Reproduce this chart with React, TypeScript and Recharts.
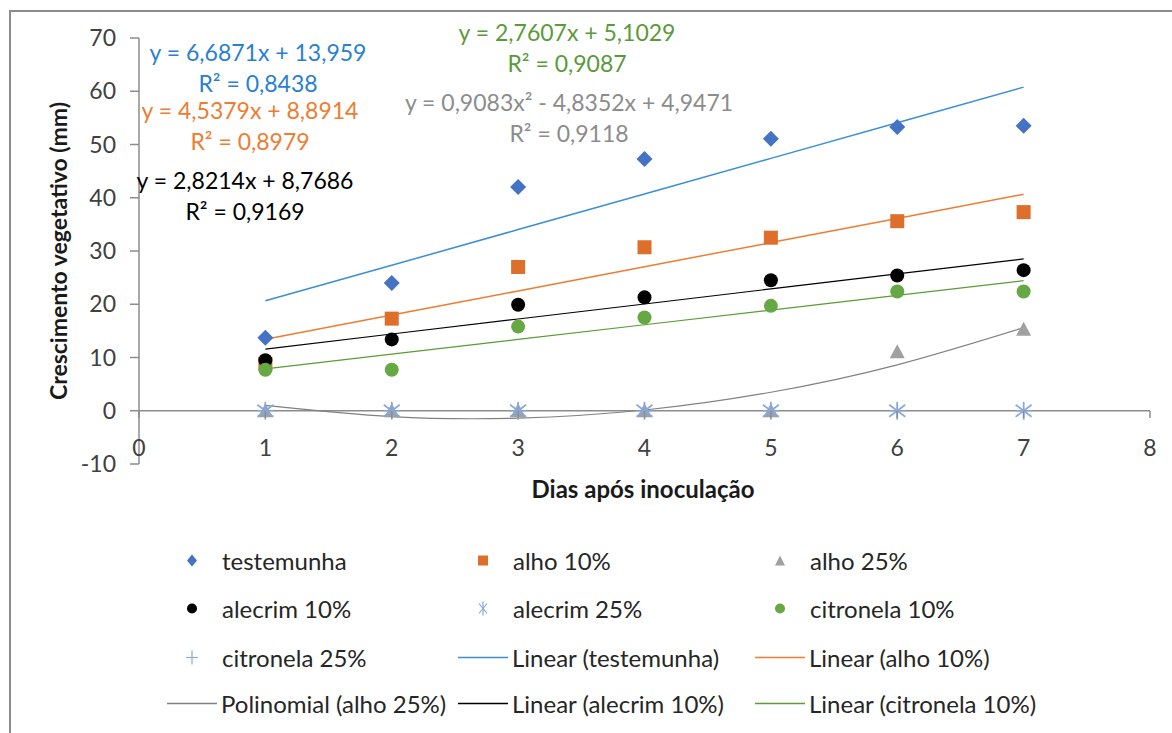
import React from "react";
import { ComposedChart, Scatter, Line, XAxis, YAxis, ReferenceLine } from "recharts";

// dias após inoculação
const days = [1, 2, 3, 4, 5, 6, 7];

// médias observadas (mm)
const testemunha = [13.7, 24.0, 42.0, 47.3, 51.1, 53.3, 53.5];
const alho10 = [8.8, 17.3, 27.0, 30.7, 32.5, 35.6, 37.3];
const alho25 = [0, 0, 0, 0, 0, 11.1, 15.3];
const alecrim10 = [9.5, 13.4, 19.9, 21.3, 24.5, 25.4, 26.4];
const alecrim25 = [0, 0, 0, 0, 0, 0, 0];
const citronela10 = [7.7, 7.7, 15.8, 17.5, 19.7, 22.4, 22.4];
const citronela25 = [0, 0, 0, 0, 0, 0, 0];

// linhas de tendência (valores das equações mostradas, em x = 1..7)
const trendTestemunha = [20.65, 27.33, 34.02, 40.71, 47.39, 54.08, 60.77];
const trendAlho10 = [13.43, 17.97, 22.5, 27.04, 31.58, 36.12, 40.66];
const trendAlho25 = [1.02, -1.09, -1.38, 0.14, 3.48, 8.63, 15.61];
const trendAlecrim10 = [11.59, 14.41, 17.23, 20.05, 22.88, 25.7, 28.52];
const trendCitronela10 = [7.86, 10.62, 13.39, 16.15, 18.91, 21.67, 24.43];

const xTicks = [0, 1, 2, 3, 4, 5, 6, 7, 8];
const yTicks = [-10, 0, 10, 20, 30, 40, 50, 60, 70];

const FONT = "Lato, 'Open Sans', sans-serif";
const AXIS = "#8c8c8c";
const TEXT = "#404040";

const C = {
  test: "#4472c4",
  alho10: "#dd6f2a",
  alho25: "#a0a0a0",
  alec10: "#000000",
  alec25: "#86a8dc",
  cit10: "#66a843",
  cit25: "#86a8dc",
  lTest: "#3a8fd8",
  lAlho: "#ed7d31",
  lPoly: "#808080",
  lAlec: "#000000",
  lCit: "#5b9c34",
};

const pts = (ys: number[]) => days.map((d, i) => ({ x: d, y: ys[i] }));

const Diamond = ({ cx, cy }: any) => (
  <path d={`M${cx},${cy - 8}L${cx + 8},${cy}L${cx},${cy + 8}L${cx - 8},${cy}Z`} fill={C.test} />
);
const Square = ({ cx, cy }: any) => <rect x={cx - 7} y={cy - 7} width={14} height={14} fill={C.alho10} />;
const Triangle = ({ cx, cy }: any) => (
  <path d={`M${cx},${cy - 7.5}L${cx + 7.5},${cy + 6.5}L${cx - 7.5},${cy + 6.5}Z`} fill={C.alho25} />
);
const Dot = (color: string) => ({ cx, cy }: any) => <circle cx={cx} cy={cy} r={7} fill={color} />;
const Asterisk = ({ cx, cy }: any) => (
  <g stroke={C.alec25} strokeWidth={1.6}>
    <line x1={cx} y1={cy - 9} x2={cx} y2={cy + 9} />
    <line x1={cx - 8} y1={cy - 6} x2={cx + 8} y2={cy + 6} />
    <line x1={cx - 8} y1={cy + 6} x2={cx + 8} y2={cy - 6} />
  </g>
);
const Plus = ({ cx, cy }: any) => (
  <g stroke={C.cit25} strokeWidth={1.3}>
    <line x1={cx} y1={cy - 8} x2={cx} y2={cy + 8} />
    <line x1={cx - 8} y1={cy} x2={cx + 8} y2={cy} />
  </g>
);

// eixo x desenhado em y = 0, rótulos logo abaixo
const XTick = ({ x, y, payload }: any) => (
  <g>
    <line x1={x} x2={x} y1={y - 53} y2={y - 46} stroke={AXIS} strokeWidth={1.5} />
    <text x={x} y={y - 8} textAnchor="middle" fill={TEXT} fontSize={23} fontFamily={FONT}>
      {payload.value}
    </text>
  </g>
);

const equations = [
  { lines: ["y = 6,6871x + 13,959", "R² = 0,8438"], color: "#2a7fd0", x: 258, y: 52 },
  { lines: ["y = 4,5379x + 8,8914", "R² = 0,8979"], color: "#ed7d31", x: 250, y: 110 },
  { lines: ["y = 2,8214x + 8,7686", "R² = 0,9169"], color: "#000000", x: 245, y: 180 },
  { lines: ["y = 2,7607x + 5,1029", "R² = 0,9087"], color: "#5b9a3a", x: 567, y: 32 },
  { lines: ["y = 0,9083x² - 4,8352x + 4,9471", "R² = 0,9118"], color: "#8c8c8c", x: 569, y: 102 },
];

type LegendItem = { label: string; kind: string; color: string };
const legendItems: LegendItem[] = [
  { label: "testemunha", kind: "diamond", color: C.test },
  { label: "alho 10%", kind: "square", color: C.alho10 },
  { label: "alho 25%", kind: "triangle", color: C.alho25 },
  { label: "alecrim 10%", kind: "circle", color: C.alec10 },
  { label: "alecrim 25%", kind: "asterisk", color: C.alec25 },
  { label: "citronela 10%", kind: "circle", color: C.cit10 },
  { label: "citronela 25%", kind: "plus", color: C.cit25 },
  { label: "Linear (testemunha)", kind: "line", color: C.lTest },
  { label: "Linear (alho 10%)", kind: "line", color: C.lAlho },
  { label: "Polinomial (alho 25%)", kind: "line", color: C.lPoly },
  { label: "Linear (alecrim 10%)", kind: "line", color: C.lAlec },
  { label: "Linear (citronela 10%)", kind: "line", color: C.lCit },
];

const LegendIcon = ({ kind, color }: { kind: string; color: string }) => {
  if (kind === "line")
    return (
      <svg width={50} height={20} style={{ marginRight: 4 }}>
        <line x1={0} y1={10} x2={50} y2={10} stroke={color} strokeWidth={1.5} />
      </svg>
    );
  let mark: React.ReactNode = null;
  if (kind === "diamond") mark = <path d="M10,4L15,10L10,16L5,10Z" fill={color} />;
  if (kind === "square") mark = <rect x={5} y={5} width={10} height={10} fill={color} />;
  if (kind === "triangle") mark = <path d="M10,5L15,15L5,15Z" fill={color} />;
  if (kind === "circle") mark = <circle cx={10} cy={10} r={5} fill={color} />;
  if (kind === "asterisk")
    mark = (
      <g stroke={color} strokeWidth={1.2}>
        <line x1={10} y1={3} x2={10} y2={17} />
        <line x1={6} y1={5} x2={14} y2={15} />
        <line x1={6} y1={15} x2={14} y2={5} />
      </g>
    );
  if (kind === "plus")
    mark = (
      <g stroke={color} strokeWidth={1.2}>
        <line x1={10} y1={3} x2={10} y2={17} />
        <line x1={4} y1={10} x2={16} y2={10} />
      </g>
    );
  return (
    <svg width={20} height={20} style={{ marginLeft: 15, marginRight: 20 }}>
      {mark}
    </svg>
  );
};

const colX = [167, 458, 755];
const rowY = [560, 608, 657, 703];

export default function App() {
  return (
    <div style={{ position: "absolute", left: 0, top: 0, width: 1172, height: 733, overflow: "hidden", background: "#fff", fontFamily: FONT }}>
      <div style={{ position: "absolute", left: 9, top: 10, width: 1200, height: 800, borderLeft: "2px solid #8c8c8c", borderTop: "2px solid #8c8c8c" }} />
      <div style={{ position: "absolute", left: 0, top: 0 }}>
        <ComposedChart width={1172} height={733} margin={{ top: 38, right: 22, bottom: 239, left: 79 }}>
          <XAxis
            type="number"
            dataKey="x"
            domain={[0, 8]}
            ticks={xTicks}
            axisLine={false}
            tickLine={false}
            tickSize={0}
            tickMargin={0}
            height={30}
            tick={<XTick />}
            interval={0}
          />
          <YAxis
            type="number"
            dataKey="y"
            domain={[-10, 70]}
            ticks={yTicks}
            width={60}
            tickSize={9}
            tickMargin={14}
            axisLine={{ stroke: AXIS, strokeWidth: 1.5 }}
            tickLine={{ stroke: AXIS, strokeWidth: 1.5 }}
            tick={{ fill: TEXT, fontSize: 23, fontFamily: FONT }}
            interval={0}
          />
          <ReferenceLine y={0} stroke={AXIS} strokeWidth={1.5} />
          <Line data={pts(trendTestemunha)} dataKey="y" stroke={C.lTest} strokeWidth={1.5} dot={false} isAnimationActive={false} />
          <Line data={pts(trendAlho10)} dataKey="y" stroke={C.lAlho} strokeWidth={1.5} dot={false} isAnimationActive={false} />
          <Line data={pts(trendAlho25)} type="natural" dataKey="y" stroke={C.lPoly} strokeWidth={1.2} dot={false} isAnimationActive={false} />
          <Line data={pts(trendAlecrim10)} dataKey="y" stroke={C.lAlec} strokeWidth={1.2} dot={false} isAnimationActive={false} />
          <Line data={pts(trendCitronela10)} dataKey="y" stroke={C.lCit} strokeWidth={1.2} dot={false} isAnimationActive={false} />
          <Scatter data={pts(testemunha)} dataKey="y" shape={Diamond} isAnimationActive={false} />
          <Scatter data={pts(alho10)} dataKey="y" shape={Square} isAnimationActive={false} />
          <Scatter data={pts(alho25)} dataKey="y" shape={Triangle} isAnimationActive={false} />
          <Scatter data={pts(alecrim10)} dataKey="y" shape={Dot(C.alec10)} isAnimationActive={false} />
          <Scatter data={pts(alecrim25)} dataKey="y" shape={Asterisk} isAnimationActive={false} />
          <Scatter data={pts(citronela10)} dataKey="y" shape={Dot(C.cit10)} isAnimationActive={false} />
          <Scatter data={pts(citronela25)} dataKey="y" shape={Plus} isAnimationActive={false} />
        </ComposedChart>
      </div>

      {equations.map((eq) =>
        eq.lines.map((t, i) => (
          <div
            key={t}
            style={{
              position: "absolute",
              left: eq.x,
              top: eq.y + i * 31,
              transform: "translate(-50%, -50%)",
              whiteSpace: "nowrap",
              color: eq.color,
              fontSize: 23,
              lineHeight: "26px",
            }}
          >
            {t}
          </div>
        ))
      )}

      <div
        style={{
          position: "absolute",
          left: 58,
          top: 251,
          transform: "translate(-50%, -50%) rotate(-90deg)",
          whiteSpace: "nowrap",
          fontWeight: 700,
          fontSize: 23,
          color: "#1a1a1a",
        }}
      >
        Crescimento vegetativo (mm)
      </div>
      <div
        style={{
          position: "absolute",
          left: 643,
          top: 488,
          transform: "translate(-50%, -50%)",
          whiteSpace: "nowrap",
          fontWeight: 700,
          fontSize: 24,
          color: "#1a1a1a",
        }}
      >
        Dias após inoculação
      </div>

      {legendItems.map((it, i) => (
        <div
          key={it.label}
          style={{
            position: "absolute",
            left: colX[i % 3],
            top: rowY[Math.floor(i / 3)],
            transform: "translateY(-50%)",
            display: "flex",
            alignItems: "center",
            whiteSpace: "nowrap",
            fontSize: 24,
            color: "#262626",
          }}
        >
          <LegendIcon kind={it.kind} color={it.color} />
          <span>{it.label}</span>
        </div>
      ))}
    </div>
  );
}
